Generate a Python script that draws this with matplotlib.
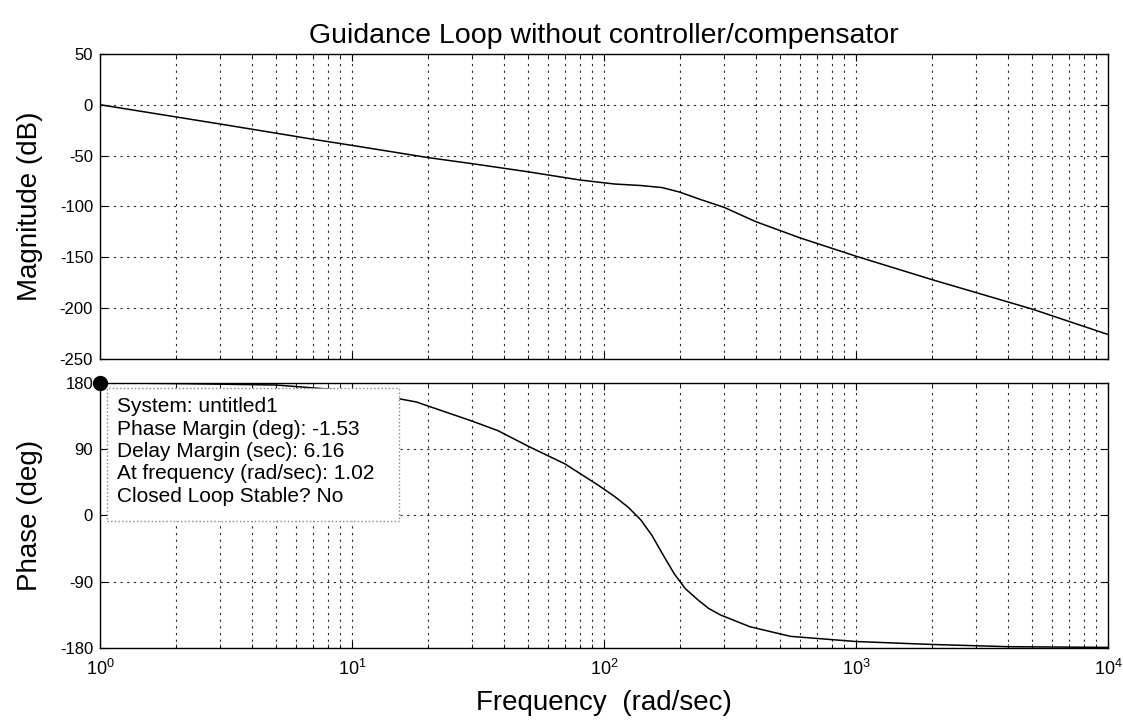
import matplotlib
matplotlib.use("Agg")
import matplotlib.pyplot as plt
from matplotlib.patches import Rectangle
from matplotlib.ticker import LogLocator, NullFormatter

plt.rcParams['font.family'] = ['Liberation Sans', 'DejaVu Sans']
plt.rcParams['axes.unicode_minus'] = False

# magnitude curve
mag_w = [1, 2, 3, 5, 7, 10, 15, 20, 30, 50, 80, 110, 140, 170, 200, 240,
         300, 400, 600, 1000, 2000, 5000, 10000]
mag_db = [0, -12, -19, -28, -34, -40, -47, -52, -58, -66, -74, -78, -79.5,
          -81.5, -86, -93, -101, -115, -131, -149, -172, -201, -226]

# phase curve
ph_w = [1, 2, 5, 10, 14, 18, 30, 38, 50, 70, 95, 110, 125, 140, 155, 170,
        190, 210, 235, 260, 290, 380, 550, 1000, 2000, 4000, 10000]
ph_deg = [180, 179, 177, 169, 161, 154, 128, 115, 94, 70, 41, 26, 11, -6,
          -27, -51, -79, -99, -114, -126, -135, -151, -164, -171, -175,
          -178, -179]

mag_ticks = [50, 0, -50, -100, -150, -200, -250]
ph_ticks = [180, 90, 0, -90, -180]

tip_lines = ["System: untitled1",
             "Phase Margin (deg): -1.53",
             "Delay Margin (sec): 6.16",
             "At frequency (rad/sec): 1.02",
             "Closed Loop Stable? No"]

fig = plt.figure(figsize=(11.23, 7.25), dpi=100)
ax1 = fig.add_axes([0.089, 0.505, 0.8976, 0.4207])
ax2 = fig.add_axes([0.089, 0.106, 0.8976, 0.366])

grid_style = dict(color="black", linestyle=(0, (2, 4)), linewidth=0.8, alpha=0.85)

for ax in (ax1, ax2):
    ax.set_xscale("log")
    ax.set_xlim(1, 1e4)
    ax.xaxis.set_major_locator(LogLocator(base=10, numticks=10))
    ax.xaxis.set_minor_locator(LogLocator(base=10, subs=range(2, 10), numticks=20))
    ax.xaxis.set_minor_formatter(NullFormatter())
    ax.grid(True, which="major", **grid_style)
    ax.grid(True, which="minor", axis="x", **grid_style)
    ax.tick_params(which="both", direction="in", top=True, right=True,
                   labelsize=12, pad=5)
    ax.tick_params(which="major", length=5)
    ax.tick_params(which="minor", length=3)
    for s in ax.spines.values():
        s.set_linewidth(1.0)

ax1.plot(mag_w, mag_db, color="black", linewidth=1.1)
ax1.set_ylim(-250, 50)
ax1.set_yticks(mag_ticks)
ax1.tick_params(axis="x", labelbottom=False)
ax1.set_ylabel("Magnitude (dB)", fontsize=20)
ax1.yaxis.set_label_coords(-0.056, 0.5)
ax1.set_title("Guidance Loop without controller/compensator", fontsize=20.5, pad=8)

ax2.plot(ph_w, ph_deg, color="black", linewidth=1.1)
ax2.set_ylim(-180, 180)
ax2.set_yticks(ph_ticks)
ax2.set_ylabel("Phase (deg)", fontsize=20)
ax2.yaxis.set_label_coords(-0.056, 0.5)
ax2.set_xlabel("Frequency  (rad/sec)", fontsize=20, labelpad=8)
ax2.tick_params(axis="x", labelsize=13, pad=8)

# datatip box
box = Rectangle((0.007, 0.48), 0.29, 0.50, transform=ax2.transAxes,
                facecolor="white", edgecolor="#888888", linestyle=":",
                linewidth=1.0, zorder=4)
ax2.add_patch(box)
ax2.text(0.017, 0.945, "\n".join(tip_lines), transform=ax2.transAxes,
         fontsize=15, va="top", ha="left", linespacing=1.22, zorder=5)
ax2.plot([1.0], [180], marker="o", markersize=10, color="black",
         clip_on=False, zorder=6)

fig.savefig("out.png", dpi=100)
